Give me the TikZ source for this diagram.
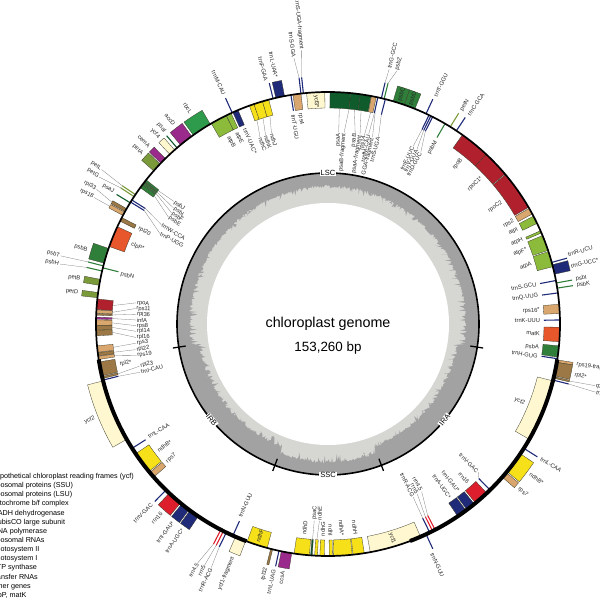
\documentclass[tikz,border=0pt]{standalone}
\usepackage{fontspec}
\setmainfont{Liberation Sans}
\definecolor{cycf}{HTML}{FFF7CF}
\definecolor{crps}{HTML}{D9A66E}
\definecolor{crpl}{HTML}{9B7845}
\definecolor{cpet}{HTML}{7B9B3B}
\definecolor{cndh}{HTML}{F6E01A}
\definecolor{crbc}{HTML}{2E9A4C}
\definecolor{crpo}{HTML}{B1212D}
\definecolor{crrn}{HTML}{DD1F2D}
\definecolor{cpsb}{HTML}{2F7F3B}
\definecolor{cpsa}{HTML}{0F5B2B}
\definecolor{catp}{HTML}{8CBB3C}
\definecolor{ctrn}{HTML}{1F2A78}
\definecolor{coth}{HTML}{9A2B8C}
\definecolor{cclp}{HTML}{E8562B}
\definecolor{boxline}{HTML}{3A3A2A}
\definecolor{gclight}{HTML}{D6D6D3}
\definecolor{gcdark}{HTML}{A2A2A2}
\newcounter{nn}
\newcommand\gb[5]{\filldraw[fill=#5, draw=boxline, line width=0.3pt]
  ({90-#1}:#3pt) arc[start angle={90-#1}, end angle={90-#2}, radius=#3pt]
  -- ({90-#2}:#4pt) arc[start angle={90-#2}, end angle={90-#1}, radius=#4pt] -- cycle;}
\newcommand\go[3]{\gb{#1}{#2}{232}{248}{#3}}
\newcommand\gi[3]{\gb{#1}{#2}{216}{232}{#3}}
\newcommand\lo[2]{\draw[#2, line width=1.1pt] ({90-#1}:232pt) -- ({90-#1}:248pt);}
\newcommand\li[2]{\draw[#2, line width=1.1pt] ({90-#1}:216pt) -- ({90-#1}:232pt);}
\newcommand\lab[3]{%
  \pgfmathsetmacro\lrot{(#1>180) ? (270-#1) : (90-#1)}%
  \pgfmathtruncatemacro\lcase{(#1>180)+(#2<232)}%
  \ifnum\lcase=1 \def\lanc{east}\else\def\lanc{west}\fi
  \stepcounter{nn}\edef\curname{n\arabic{nn}}%
  \node[gl, rotate=\lrot, anchor=\lanc] (\curname) at ({90-#1}:#2pt) {#3};}
\newcommand\llab[5]{\draw[lead] ({90-#1}:#2pt) -- ({90-#3}:#4pt);\lab{#3}{#4}{#5}}
\begin{document}
\begin{tikzpicture}[x=1pt,y=1pt,
  gl/.style={font=\fontsize{5.8}{6}\selectfont, inner sep=0.7pt, text=black!85},
  lead/.style={draw=black!50, line width=0.3pt},
  reg/.style={font=\fontsize{7.5}{8}\selectfont, fill=white, inner sep=0.8pt},
  leg/.style={font=\fontsize{7.2}{8}\selectfont, anchor=base west, inner sep=0pt}]
\useasboundingbox (0,0) rectangle (600,-600);
\begin{scope}[shift={(328,-324)}]
% ---------- inner GC ring ----------
\fill[gclight] (0,0) circle[radius=151pt];
\pgfmathsetseed{12345}
\fill[gcdark, even odd rule] (0,0) circle[radius=151pt]
  plot[variable=\t, domain=0:360, samples=1081]
  ({90-\t}:{138-7*((\t>98.8)*(\t<159.3)+(\t>200.6)*(\t<261.2))+1.3*rand-7*pow(rnd,8)}) -- cycle;
\fill[white] (0,0) circle[radius=121pt];
\draw[line width=1.6pt] (0,0) circle[radius=151pt];
\foreach \a in {98.8,159.3,200.6,261.2}
  \draw[line width=1.3pt] ({90-\a}:144pt) -- ({90-\a}:157pt);
\node[reg] (LSC) at (90:151pt) {LSC};
\node[reg, rotate=50.5] (IRA) at ({90-129.5}:151pt) {IRA};
\node[reg] (SSC) at (-90:151pt) {SSC};
\node[reg, rotate=-50.5] (IRB) at ({90-230.5}:151pt) {IRB};
% ---------- genes ----------
\li{256.0}{ctrn}
\gi{256.4}{256.9}{crpl}
\gi{257.1}{260.6}{crpl}
\gi{261.2}{262.0}{crps}
\gi{262.1}{262.9}{crpl}
\gi{263.0}{264.6}{crps}
\gi{267.1}{268.5}{crpl}
\gi{268.5}{269.7}{crpl}
\gi{269.7}{271.0}{crps}
\gi{271.2}{271.7}{coth}
\gi{272.2}{272.6}{crpl}
\gi{272.7}{273.5}{crps}
\gi{273.6}{276.2}{crpo}
\go{276.5}{277.8}{cpet}
\go{279.6}{281.1}{cpet}
\lo{283.2}{cpsb}
\li{284.0}{cpsb}
\lo{284.5}{cpsb}
\go{285.2}{289.0}{cpsb}
\gi{289.5}{294.8}{cclp}
\gi{296.3}{297.3}{crpl}
\go{297.9}{298.8}{crps}
\go{299.0}{299.8}{crpl}
\lo{301.5}{cpsa}
\li{301.7}{ctrn}
\li{302.3}{ctrn}
\lo{303.3}{cpet}
\lo{303.9}{cpet}
\gi{306.0}{306.9}{cpsb}
\gi{307.0}{307.4}{cpsb}
\gi{307.5}{307.8}{cpsb}
\gi{307.9}{308.4}{cpsb}
\go{311.3}{313.6}{cpet}
\go{313.9}{315.5}{coth}
\go{317.0}{318.6}{cycf}
\lo{319.4}{cpsa}
\go{320.5}{324.0}{coth}
\go{324.5}{329.5}{crbc}
\gi{329.8}{334.0}{catp}
\gi{334.0}{335.3}{catp}
\lo{335.6}{ctrn}
\gi{335.8}{337.2}{ctrn}
\gi{340.2}{341.4}{cndh}
\gi{341.4}{343.6}{cndh}
\gi{343.6}{345.2}{cndh}
\lo{346.3}{ctrn}
\go{347.0}{349.2}{ctrn}
\li{350.8}{ctrn}
\gi{351.3}{353.3}{crps}
\lo{353.3}{ctrn}
\lo{353.9}{ctrn}
\gi{354.7}{359.2}{cycf}
\gi{0.5}{5.6}{cpsa}
\gi{5.6}{8.0}{cpsa}
\gi{8.0}{10.7}{cpsa}
\gi{10.8}{12.0}{crps}
\li{12.4}{ctrn}
\li{14.3}{ctrn}
\lo{13.3}{ctrn}
\lo{14.0}{cpsb}
\go{16.3}{19.2}{cpsb}
\go{19.2}{22.0}{cpsb}
\lo{25.0}{ctrn}
\li{25.8}{ctrn}\li{26.3}{ctrn}\li{26.8}{ctrn}
\li{30.3}{cpsb}
\lo{31.8}{cpet}
\lo{33.6}{ctrn}
\gi{35.4}{43.0}{crpo}
\gi{43.0}{49.7}{crpo}
\gi{49.9}{59.8}{crpo}
\gi{60.1}{61.7}{crps}
\gi{62.3}{64.3}{catp}
\gi{66.3}{66.9}{catp}
\gi{67.6}{71.5}{catp}
\gi{71.8}{75.7}{catp}
\lo{74.6}{ctrn}
\go{75.2}{77.6}{ctrn}
\li{79.2}{ctrn}
\lo{79.8}{cpsb}
\lo{81.1}{cpsb}
\li{82.3}{ctrn}
\gi{85.1}{87.4}{crps}
\li{89.0}{ctrn}
\gi{90.8}{94.4}{cclp}
\gi{95.4}{98.2}{cpsb}
\li{98.6}{ctrn}
% IRA
\go{98.9}{99.5}{crps}
\go{99.5}{102.9}{crpl}
\go{103.1}{103.5}{crpl}
\lo{104.0}{ctrn}
\gi{104.2}{119.8}{cycf}
\lo{122.4}{ctrn}
\go{124.0}{129.5}{cndh}
\go{129.8}{131.3}{crps}
\li{135.7}{ctrn}
\gi{136.8}{140.5}{crrn}
\gi{140.9}{143.2}{ctrn}
\gi{143.5}{146.0}{ctrn}
\li{152.5}{crrn}\li{153.2}{crrn}\li{154.0}{ctrn}
\lo{155.0}{ctrn}
% SSC
\gi{156.5}{169.5}{cycf}
\gi{171.0}{173.8}{cndh}
\gi{174.0}{178.6}{cndh}
\gi{178.9}{179.7}{cndh}
\gi{180.9}{182.0}{cndh}
\gi{182.6}{183.3}{cndh}
\gi{183.9}{184.3}{cpsa}
\gi{184.6}{188.4}{cndh}
\go{189.0}{191.6}{coth}
\lo{192.2}{ctrn}
\go{193.8}{194.3}{crpl}
\gi{195.2}{200.4}{cndh}
% IRB
\go{200.8}{203.5}{cycf}
\li{204.2}{ctrn}
\lo{206.0}{ctrn}\lo{206.8}{crrn}\lo{207.5}{crrn}
\go{214.0}{216.5}{ctrn}
\go{216.8}{219.1}{ctrn}
\go{219.5}{223.2}{crrn}
\lo{224.3}{ctrn}
\gi{228.7}{230.2}{crps}
\gi{230.5}{236.0}{cndh}
\li{237.6}{ctrn}
\go{240.2}{255.8}{cycf}
% ---------- outer circle ----------
\draw[line width=1.7pt] (0,0) circle[radius=232pt];
\draw[line width=4pt] ({90-98.8}:232pt) arc[start angle={90-98.8}, end angle={90-159.3}, radius=232pt];
\draw[line width=4pt] ({90-200.6}:232pt) arc[start angle={90-200.6}, end angle={90-261.2}, radius=232pt];
% ---------- labels ----------
\llab{256.0}{216}{255.6}{194}{trnI-CAU}
\llab{256.65}{216}{257.4}{193}{rpl23}
\lab{259.0}{213}{rpl2*}
\llab{261.6}{216}{260.6}{194}{rps19}
\llab{262.5}{216}{262.4}{194}{rpl22}
\llab{263.8}{216}{264.3}{193}{rps3}
\llab{267.8}{216}{266.0}{192.5}{rpl16}
\llab{269.1}{216}{267.8}{192}{rpl14}
\llab{270.3}{216}{269.5}{192}{rps8}
\llab{271.45}{216}{271.2}{192}{infA}
\llab{272.4}{216}{272.9}{192}{rpl36}
\llab{273.1}{216}{274.6}{193}{rps11}
\llab{274.9}{216}{276.3}{193}{rpoA}
\lab{277.2}{251}{petD}
\lab{280.3}{251}{petB}
\llab{283.2}{248}{282.6}{275}{psbH}
\llab{284.5}{248}{284.3}{276}{psbT}
\lab{283.5}{214}{psbN}
\lab{287.1}{251}{psbB}
\lab{292.1}{213}{clpP*}
\lab{296.8}{213}{rpl20}
\llab{298.35}{248}{298.4}{266}{rps18}
\llab{299.4}{248}{300.2}{268}{rpl33}
\lab{301.6}{251}{psaJ}
\llab{301.7}{216}{298.3}{191}{trnP-UGG}
\llab{302.3}{216}{300.8}{194}{trnW-CCA}
\llab{303.3}{248}{302.7}{272}{petG}
\llab{303.9}{248}{304.3}{274}{petL}
\llab{306.45}{216}{303.8}{192}{psbE}
\llab{307.2}{216}{305.4}{192}{psbF}
\llab{307.65}{216}{306.9}{193}{psbL}
\llab{308.15}{216}{308.5}{197}{psbJ}
\lab{312.5}{251}{petA}
\lab{314.8}{251}{cemA}
\lab{317.8}{251}{ycf4}
\lab{319.7}{251}{psaI}
\lab{322.3}{251}{accD}
\lab{327.0}{251}{rbcL}
\lab{332.0}{213}{atpB}
\lab{334.5}{213}{atpE}
\lab{335.6}{251}{trnM-CAU}
\lab{336.9}{213}{trnV-UAC*}
\llab{340.8}{216}{340.0}{199}{ndhC}
\llab{342.5}{216}{341.7}{199}{ndhK}
\llab{344.4}{216}{343.5}{199}{ndhJ}
\lab{345.7}{250}{trnF-GAA}
\lab{348.1}{251}{trnL-UAA*}
\lab{350.5}{213}{trnT-UGU}
\lab{352.5}{213}{rps4}
\llab{353.3}{248}{352.7}{268}{trnS-GGA}
\llab{353.9}{248}{354.5}{275}{trnS-UGA-fragment}
\lab{357.0}{230}{ycf3*}
\llab{3.0}{216}{3.2}{192}{psaA}
\llab{5.6}{216}{4.8}{192}{psaB-fragment}
\llab{7.0}{216}{8.1}{193}{psaB}
\llab{8.8}{216}{9.6}{192}{psaA-fragment}
\llab{11.4}{216}{10.9}{192}{rps14}
\llab{12.4}{216}{12.1}{194}{trnfM-CAU}
\llab{12.6}{216}{13.4}{192}{GGA-fragment}
\llab{14.3}{216}{15.1}{194}{trnS-UGA}
\llab{13.3}{248}{13.5}{262}{trnG-GCC}
\llab{14.0}{248}{15.2}{262}{psbZ}
\lab{17.8}{233.5}{psbC}
\lab{20.6}{233.5}{psbD}
\lab{25.3}{251}{trnT-GGU}
\llab{25.8}{216}{25.6}{197}{trnE-UUC}
\llab{26.3}{216}{27.0}{196}{trnY-GUA}
\llab{26.8}{216}{28.4}{195}{trnD-GUC}
\lab{30.6}{213}{psbM}
\lab{32.0}{251}{petN}
\lab{34.0}{251}{trnC-GCA}
\lab{39.0}{213}{rpoB}
\lab{46.4}{213}{rpoC1*}
\lab{55.0}{213}{rpoC2}
\lab{61.0}{213}{rps2}
\lab{63.4}{213}{atpI}
\lab{66.6}{213}{atpH}
\lab{69.5}{213}{atpF*}
\lab{73.7}{213}{atpA}
\lab{73.9}{249}{trnR-UCU}
\lab{76.6}{249}{trnG-UCC*}
\lab{79.2}{213}{trnS-GCU}
\lab{79.8}{251}{psbI}
\lab{81.2}{251}{psbK}
\lab{82.3}{213}{trnQ-UUG}
\lab{86.3}{213}{rps16*}
\lab{89.0}{213}{trnK-UUU}
\lab{92.6}{213}{matK}
\lab{96.4}{213}{psbA}
\lab{98.8}{213}{trnH-GUG}
\lab{99.2}{251}{rps19-fragment}
\lab{101.6}{251}{rpl2*}
\llab{103.3}{248}{103.0}{274}{rpl23}
\llab{104.0}{248}{104.3}{276}{trnI-CAU}
\lab{112.0}{213}{ycf2}
\lab{122.3}{251}{trnL-CAA}
\lab{126.6}{251}{ndhB*}
\lab{130.8}{251}{rps7}
\llab{135.7}{216}{134.6}{211}{trnV-GAC}
\lab{138.6}{213}{rrn16}
\lab{142.1}{213}{trnI-GAU*}
\lab{145.0}{213}{trnA-UGC*}
\llab{152.5}{216}{150.8}{192}{rrn4.5}
\llab{153.2}{216}{152.3}{192}{rrn5}
\llab{154.0}{216}{153.8}{193}{trnR-ACG}
\lab{155.6}{251}{trnN-GUU}
\lab{163.3}{230}{ycf1}
\lab{172.5}{213}{ndhH}
\lab{176.2}{213}{ndhA*}
\lab{179.3}{213}{ndhI}
\lab{181.4}{213}{ndhG}
\llab{182.95}{216}{182.5}{197}{ndhE}
\llab{184.1}{216}{184.0}{197}{psaC}
\lab{186.5}{213}{ndhD}
\lab{190.3}{251}{ccsA}
\lab{192.4}{251}{trnL-UAG}
\lab{194.3}{251}{rpl32}
\lab{197.8}{230}{ndhF}
\lab{202.2}{251}{ycf1-fragment}
\lab{204.5}{213}{trnN-GUU}
\llab{206.0}{248}{205.6}{270}{trnR-ACG}
\llab{206.8}{248}{207.1}{271}{rrn5}
\llab{207.5}{248}{208.6}{272}{rrn4.5}
\lab{215.3}{251}{trnA-UGC*}
\lab{218.0}{251}{trnI-GAU*}
\lab{221.4}{251}{rrn16}
\lab{224.4}{251}{trnV-GAC}
\lab{229.4}{213}{rps7}
\lab{233.2}{213}{ndhB*}
\lab{237.8}{213}{trnL-CAA}
\lab{248.0}{251}{ycf2}
% ---------- centre ----------
\node[font=\fontsize{14.3}{16}\selectfont] (title) at (0,0.5) {chloroplast genome};
\node[font=\fontsize{13.4}{15}\selectfont] (size) at (0,-24) {153,260 bp};
\end{scope}
% ---------- legend ----------
\foreach \txt [count=\i] in {hypothetical chloroplast reading frames (ycf),
  ribosomal proteins (SSU), ribosomal proteins (LSU), cytochrome b/f complex,
  NADH dehydrogenase, RubisCO large subunit, RNA polymerase, ribosomal RNAs,
  photosystem II, photosystem I, ATP synthase, transfer RNAs, other genes, {clpP, matK}}
  \node[leg] (leg\i) at (-7.6, {-(478.4+9.15*(\i-1))}) {\txt};
\end{tikzpicture}
\end{document}
